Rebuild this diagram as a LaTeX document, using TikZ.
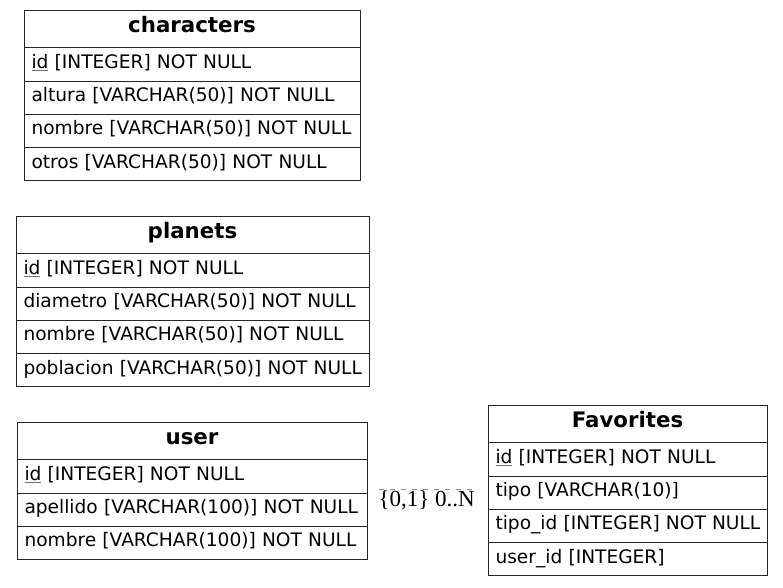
\documentclass[tikz,border=0pt]{standalone}
\usepackage{fontspec}
\newfontfamily\dejavu{DejaVu Sans}
\newfontfamily\lserif{Liberation Serif}
\newcommand\rowfnt{\dejavu\fontsize{18.6}{22}\selectfont}
\newcommand\hdrfnt{\dejavu\bfseries\fontsize{21.33}{25}\selectfont}
% primary key: grey underline under the column name
\newcommand\pk[1]{\leavevmode\setbox0\hbox{#1}\rlap{\color{black!55}\rule[-2.6pt]{\wd0}{0.8pt}}\box0\relax}
% keep a field on one line
\newcommand\fl[1]{\mbox{#1}}
\tikzset{
  tbl/.style={draw=black!85, line width=1pt, inner xsep=7.5pt, inner ysep=0pt, outer sep=0pt, anchor=north west},
  hdr/.style={tbl, minimum height=37.7pt, text height=16pt, text depth=9pt, font=\hdrfnt, align=center, text width=#1},
  field/.style={tbl, minimum height=33.3pt, text height=14pt, text depth=6pt, font=\rowfnt, align=left, text width=#1},
  card/.style={font=\lserif\fontsize{23}{26}\selectfont, inner sep=0pt, anchor=base},
  cardline/.style={draw=black!45, line width=0.8pt, dash pattern=on 5pt off 6pt}
}
\begin{document}
\begin{tikzpicture}[x=1pt,y=-1pt]
\useasboundingbox (0,0) rectangle (783,587);

% characters
\node[hdr=321pt] (ch) at (24,10) {characters};
\node[field=321pt] (ch1) at (ch.south west) {\fl{\pk{id} [INTEGER] NOT NULL}};
\node[field=321pt] (ch2) at (ch1.south west) {\fl{altura [VARCHAR(50)] NOT NULL}};
\node[field=321pt] (ch3) at (ch2.south west) {\fl{nombre [VARCHAR(50)] NOT NULL}};
\node[field=321pt] (ch4) at (ch3.south west) {\fl{otros [VARCHAR(50)] NOT NULL}};

% planets
\node[hdr=338pt] (pl) at (16,216) {planets};
\node[field=338pt] (pl1) at (pl.south west) {\fl{\pk{id} [INTEGER] NOT NULL}};
\node[field=338pt] (pl2) at (pl1.south west) {\fl{diametro [VARCHAR(50)] NOT NULL}};
\node[field=338pt] (pl3) at (pl2.south west) {\fl{nombre [VARCHAR(50)] NOT NULL}};
\node[field=338pt] (pl4) at (pl3.south west) {\fl{poblacion [VARCHAR(50)] NOT NULL}};

% user
\node[hdr=335pt] (us) at (17,422) {user};
\node[field=335pt] (us1) at (us.south west) {\fl{\pk{id} [INTEGER] NOT NULL}};
\node[field=335pt] (us2) at (us1.south west) {\fl{apellido [VARCHAR(100)] NOT NULL}};
\node[field=335pt] (us3) at (us2.south west) {\fl{nombre [VARCHAR(100)] NOT NULL}};

% Favorites
\node[hdr=264pt] (fa) at (488,405) {Favorites};
\node[field=264pt] (fa1) at (fa.south west) {\fl{\pk{id} [INTEGER] NOT NULL}};
\node[field=264pt] (fa2) at (fa1.south west) {\fl{tipo [VARCHAR(10)]}};
\node[field=264pt] (fa3) at (fa2.south west) {\fl{tipo\_id [INTEGER] NOT NULL}};
\node[field=264pt] (fa4) at (fa3.south west) {\fl{user\_id [INTEGER]}};

% cardinality labels of the user -- Favorites relation
\node[card] (c1) at (404,506) {\{0,1\}};
\node[card] (c2) at (455,506) {0..N};
\coordinate (cl) at (379,489.5);
\coordinate (cr) at (478,489.5);
\draw[cardline] (cl) -- (cr);
\end{tikzpicture}
\end{document}
